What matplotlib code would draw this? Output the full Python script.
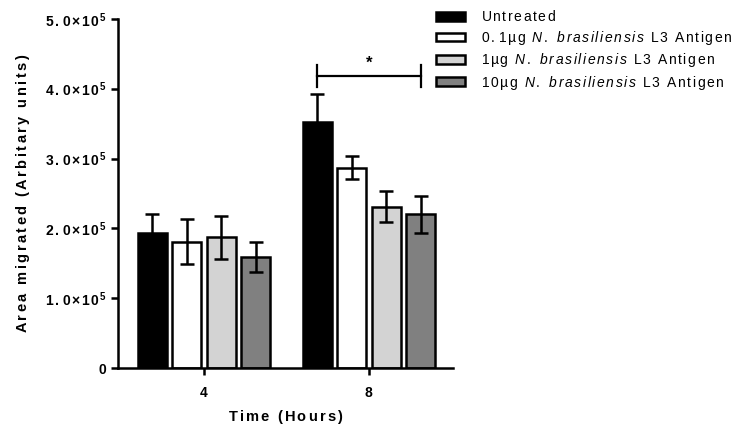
import numpy as np
import matplotlib.pyplot as plt
from matplotlib.ticker import FixedLocator, FuncFormatter

plt.rcParams['font.family'] = ['Liberation Sans', 'DejaVu Sans']
plt.rcParams['mathtext.fontset'] = 'custom'
plt.rcParams['mathtext.rm'] = 'Liberation Sans'
plt.rcParams['mathtext.it'] = 'Liberation Sans:italic'
plt.rcParams['mathtext.bf'] = 'Liberation Sans:bold'

# data
times = ["4", "8"]
groups = ["Untreated",
          "0.1µg |N. brasiliensis| L3 Antigen",
          "1µg |N. brasiliensis| L3 Antigen",
          "10µg |N. brasiliensis| L3 Antigen"]
means = [[1.94e5, 3.53e5],
         [1.81e5, 2.87e5],
         [1.87e5, 2.31e5],
         [1.59e5, 2.20e5]]
sems = [[0.26e5, 0.40e5],
        [0.32e5, 0.16e5],
        [0.31e5, 0.22e5],
        [0.22e5, 0.26e5]]
colors = ["black", "white", "#d3d3d3", "#808080"]
sig_level = 4.18e5


# letter-spaced text via mathtext; text between | | is italic
def spaced(s, style="rm", gap=0.14):
    parts = []
    for ch in s:
        if ch == "|":
            style = "it" if style == "rm" else "rm"
            continue
        if ch == " ":
            parts.append(r"\ ")
        else:
            parts.append(r"\math%s{%s}" % (style, ch))
    return "$" + (r"\hspace{%g}" % gap).join(parts) + "$"


fig = plt.figure(figsize=(7.46, 4.28), dpi=100)
ax = fig.add_axes([0.158, 0.140, 0.449, 0.816])

x = np.arange(len(times))
step = 0.209
width = 0.176
for i, g in enumerate(groups):
    xs = x + (i - 1.5) * step
    ax.bar(xs, means[i], width=width, color=colors[i], edgecolor="black",
           linewidth=1.8, label=spaced(g), zorder=2)
    ax.errorbar(xs, means[i], yerr=sems[i], fmt="none", ecolor="black",
                elinewidth=1.8, capsize=5, capthick=1.8, zorder=3)

# significance bracket: untreated 8h vs 10ug 8h
x1 = x[1] - 1.5 * step
x2 = x[1] + 1.5 * step
ax.plot([x1, x2], [sig_level, sig_level], color="black", lw=1.6, clip_on=False)
ax.plot([x1, x1], [sig_level - 0.16e5, sig_level + 0.16e5], color="black", lw=1.6, clip_on=False)
ax.plot([x2, x2], [sig_level - 0.16e5, sig_level + 0.16e5], color="black", lw=1.6, clip_on=False)
ax.text((x1 + x2) / 2, sig_level + 0.08e5, "*", ha="center", va="bottom",
        fontsize=12, fontweight="bold")

ax.set_xlim(-0.521, 1.509)
ax.set_ylim(0, 5e5)
ax.set_xticks(x)
ax.set_xticklabels([spaced(t, "bf") for t in times])
ax.yaxis.set_major_locator(FixedLocator(np.arange(0, 5.01e5, 1e5)))


def fmt(v, pos):
    if v == 0:
        return spaced("0", "bf")
    s = spaced("%.1f×10" % (v / 1e5), "bf", 0.14)
    return s[:-1] + r"^{\hspace{0.2}\mathbf{5}}$"


ax.yaxis.set_major_formatter(FuncFormatter(fmt))
ax.tick_params(axis="both", labelsize=10)
ax.tick_params(axis="x", pad=8)
ax.tick_params(axis="y", pad=3)

ax.spines["top"].set_visible(False)
ax.spines["right"].set_visible(False)
ax.spines["left"].set_linewidth(1.8)
ax.spines["bottom"].set_linewidth(1.8)
ax.tick_params(width=1.8, length=5)

ax.set_xlabel(spaced("Time (Hours)", "bf", 0.18), fontsize=10.5, labelpad=6)
ax.set_ylabel(spaced("Area migrated (Arbitary units)", "bf", 0.2), fontsize=10.5, labelpad=9)

leg = fig.legend(loc="upper left", bbox_to_anchor=(0.584, 0.978), frameon=False,
                 fontsize=10, handlelength=2.1, handleheight=0.6,
                 labelspacing=0.32, handletextpad=1.2, borderpad=0, borderaxespad=0)

fig.savefig("out.png", dpi=100)
